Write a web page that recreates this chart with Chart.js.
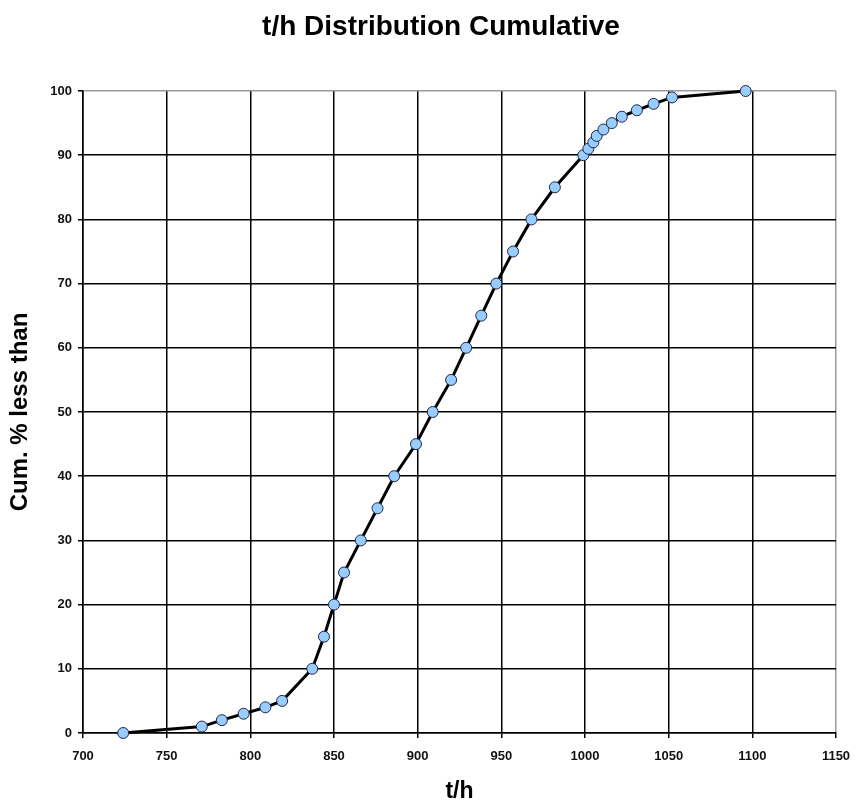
<!DOCTYPE html>
<html>
<head>
<meta charset="utf-8">
<title>t/h Distribution Cumulative</title>
<script src="https://cdn.jsdelivr.net/npm/chart.js@4.4.1/dist/chart.umd.min.js"></script>
<style>
  html, body { margin: 0; padding: 0; background: #fff; }
  #wrap { width: 856px; height: 803px; position: relative; }
</style>
</head>
<body>
<div id="wrap"><canvas id="cum-chart"></canvas></div>
<script>
// chart data
const CHART_TITLE = 't/h Distribution Cumulative';
const X_TITLE = 't/h';
const Y_TITLE = 'Cum. % less than';

const tph = [724, 771, 783, 796, 809, 819, 837, 844, 850, 856, 866, 876, 886, 899, 909, 920,
  929, 938, 947, 957, 968, 982, 999, 1002, 1005, 1007, 1011, 1016, 1022, 1031, 1041, 1052, 1096];
const cumPct = [0, 1, 2, 3, 4, 5, 10, 15, 20, 25, 30, 35, 40, 45, 50, 55,
  60, 65, 70, 75, 80, 85, 90, 91, 92, 93, 94, 95, 96, 97, 98, 99, 100];

const xTicks = [700, 750, 800, 850, 900, 950, 1000, 1050, 1100, 1150];
const yTicks = [0, 10, 20, 30, 40, 50, 60, 70, 80, 90, 100];

const FONT = '"Liberation Sans", Arial, sans-serif';

// main title drawn by hand so it can sit slightly left of the plot centre
const mainTitle = {
  id: 'mainTitle',
  afterDraw(chart) {
    const ctx = chart.ctx;
    ctx.save();
    ctx.font = 'bold 28px ' + FONT;
    ctx.fillStyle = '#000';
    ctx.textAlign = 'center';
    ctx.textBaseline = 'middle';
    ctx.fillText(CHART_TITLE, 441, 27);
    ctx.restore();
  }
};

// outer frame lines (top / right) are grey, the rest black
function gridColour(edgeValue) {
  return ctx => (ctx.tick && ctx.tick.value === edgeValue) ? '#9a9a9a' : '#000';
}

const points = tph.map((x, i) => ({ x: x, y: cumPct[i] }));

new Chart(document.getElementById('cum-chart'), {
  type: 'line',
  data: {
    datasets: [{
      data: points,
      borderColor: '#000',
      borderWidth: 3,
      tension: 0,
      pointRadius: 5.5,
      pointHoverRadius: 5.5,
      pointBackgroundColor: '#99ccff',
      pointBorderColor: '#1b2a48',
      pointBorderWidth: 1,
      clip: false
    }]
  },
  options: {
    responsive: true,
    maintainAspectRatio: false,
    animation: false,
    layout: { padding: { top: 91, right: 20, bottom: 0, left: 0 } },
    plugins: {
      legend: { display: false },
      tooltip: { enabled: false },
      title: { display: false }
    },
    scales: {
      x: {
        type: 'linear',
        min: 700,
        max: 1150,
        afterBuildTicks: s => { s.ticks = xTicks.map(v => ({ value: v })); },
        afterFit: s => {
          s.height = 70;
          // let the layout padding alone decide the right edge
          s.paddingLeft = 0;
          s.paddingRight = 0;
        },
        grid: { color: gridColour(1150), lineWidth: 1.5, tickLength: 5, tickColor: '#000' },
        border: { color: '#000', width: 1.5 },
        ticks: {
          color: '#111',
          padding: 11,
          maxRotation: 0,
          font: { family: FONT, size: 13, weight: 'bold' },
          callback: v => String(v)
        },
        title: {
          display: true,
          text: X_TITLE,
          color: '#000',
          font: { family: FONT, size: 23, weight: 'bold', lineHeight: 1 },
          padding: { top: 0, bottom: 0 }
        }
      },
      y: {
        type: 'linear',
        min: 0,
        max: 100,
        afterBuildTicks: s => { s.ticks = yTicks.map(v => ({ value: v })); },
        afterFit: s => { s.width = 83; },
        grid: { color: gridColour(100), lineWidth: 1.5, tickLength: 5, tickColor: '#000' },
        border: { color: '#000', width: 1.5 },
        ticks: {
          color: '#111',
          padding: 6,
          font: { family: FONT, size: 13, weight: 'bold' },
          callback: v => String(v)
        },
        title: {
          display: true,
          text: Y_TITLE,
          color: '#000',
          font: { family: FONT, size: 24, weight: 'bold', lineHeight: 1 },
          padding: { top: 8, bottom: 0 }
        }
      }
    }
  },
  plugins: [mainTitle]
});
</script>
</body>
</html>
